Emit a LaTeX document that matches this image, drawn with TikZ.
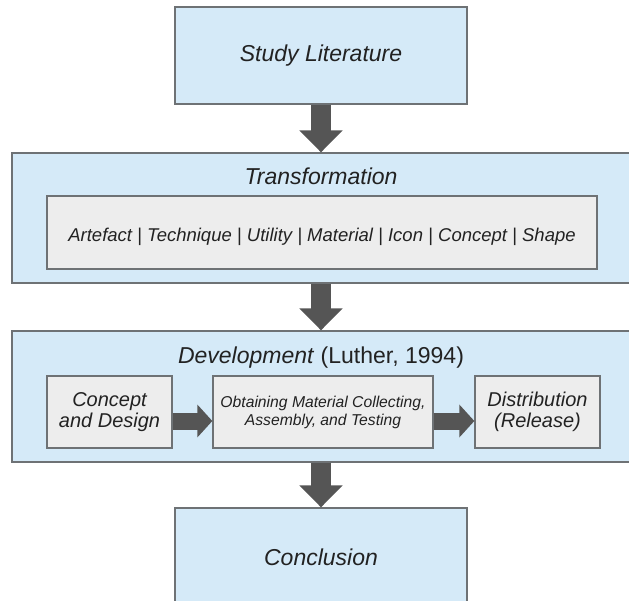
\documentclass[tikz,border=0pt]{standalone}
\usepackage{fontspec}
\setmainfont{Liberation Sans}
\usetikzlibrary{arrows.meta}
\definecolor{boxblue}{HTML}{D5EAF8}
\definecolor{boxgray}{HTML}{EDEDED}
\definecolor{edgegray}{HTML}{6E7275}
\definecolor{arrowgray}{HTML}{555555}
\definecolor{textgray}{HTML}{222222}
\tikzset{
    bluebox/.style = {draw = edgegray, line width = 1.3pt, fill = boxblue, text = textgray, inner sep = 0pt},
    graybox/.style = {draw = edgegray, line width = 1.3pt, fill = boxgray, text = textgray, align = center, inner sep = 0pt},
    titletext/.style = {text = textgray, inner sep = 0pt, font = \fontsize{23}{26}\selectfont},
    bigarrow/.style = {draw = arrowgray, line width = 20pt, -{Triangle[width = 42pt, length = 22pt]}},
    smallarrow/.style = {draw = arrowgray, line width = 17pt, -{Triangle[width = 32pt, length = 15pt]}}
}
\begin{document}
\begin{tikzpicture}[x = 1pt, y = -1pt]
    \useasboundingbox (0,0) rectangle (629,601);
    % top and bottom boxes
    \node[bluebox, minimum width = 292pt, minimum height = 97pt, font = \fontsize{23}{26}\selectfont\itshape] (study) at (321,55.5) {Study Literature};
    \node[bluebox, minimum width = 292pt, minimum height = 98pt, font = \fontsize{23}{26}\selectfont\itshape] (concl) at (321,557) {Conclusion};
    % transformation
    \node[bluebox, minimum width = 618pt, minimum height = 130pt] (trans) at (321,218) {};
    \node[titletext, font = \fontsize{23}{26}\selectfont\itshape] (transtitle) at (321,176) {Transformation};
    \node[graybox, minimum width = 550pt, minimum height = 73pt, font = \fontsize{18.5}{22}\selectfont\itshape] (kinds) at (322,232.5) {\raisebox{-9pt}[0pt][0pt]{Artefact | Technique | Utility | Material | Icon | Concept | Shape}};
    % development
    \node[bluebox, minimum width = 618pt, minimum height = 131pt] (dev) at (321,396.5) {};
    \node[titletext] (devtitle) at (321,357.5) {\textit{Development} (Luther, 1994)};
    \node[graybox, minimum width = 125pt, minimum height = 72pt, font = \fontsize{20}{21}\selectfont\itshape] (concept) at (109.5,412) {Concept\\and Design};
    \node[graybox, minimum width = 220pt, minimum height = 72pt, font = \fontsize{15.7}{18}\selectfont\itshape] (obtain) at (323,412) {Obtaining Material Collecting,\\Assembly, and Testing};
    \node[graybox, minimum width = 125pt, minimum height = 72pt, font = \fontsize{20}{21}\selectfont\itshape] (distrib) at (537.5,412) {Distribution\\(Release)};
    % arrows
    \draw[bigarrow] (study.south) -- (trans.north);
    \draw[bigarrow] (trans.south) -- (dev.north);
    \draw[bigarrow] (dev.south) -- (concl.north);
    \draw[smallarrow] ([yshift = -9pt]concept.east) -- ([yshift = -9pt]obtain.west);
    \draw[smallarrow] ([yshift = -9pt]obtain.east) -- ([yshift = -9pt]distrib.west);
\end{tikzpicture}
\end{document}
